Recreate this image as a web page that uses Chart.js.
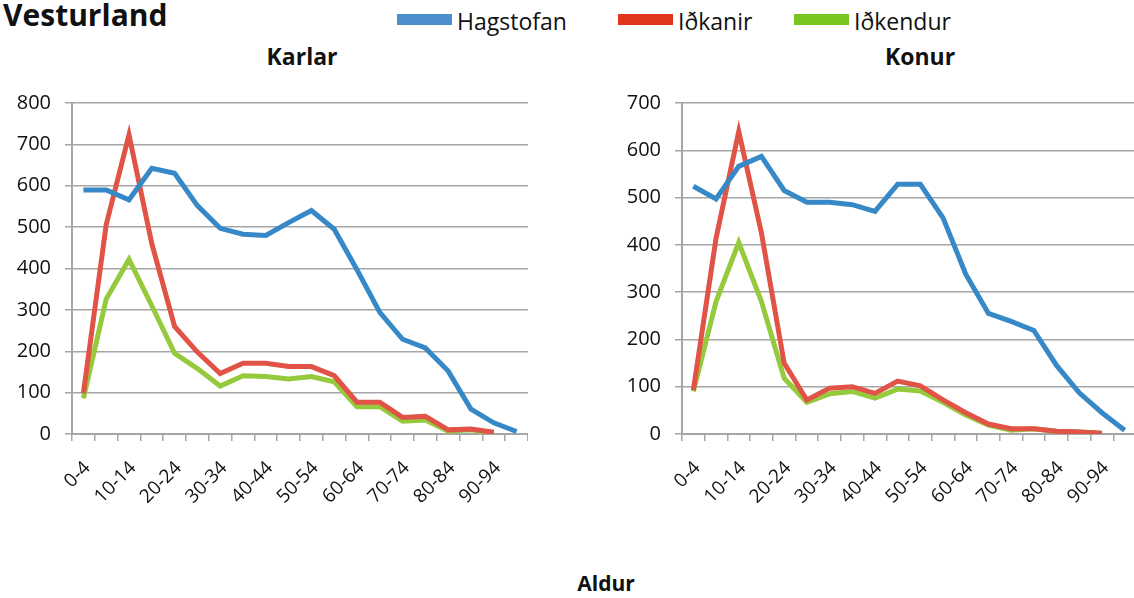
<!DOCTYPE html>
<html>
<head>
<meta charset="utf-8">
<script src="https://cdn.jsdelivr.net/npm/chart.js@4.4.1/dist/chart.umd.min.js"></script>
<style>
  html, body { margin:0; padding:0; background:#fff; width:1134px; height:598px; overflow:hidden; font-family:'Open Sans', sans-serif; color:#111; }
  .box { position:absolute; top:0; height:520px; }
  #wrapK { left:0; width:528px; }
  #wrapW { left:610px; width:526px; }
  .txt { position:absolute; white-space:nowrap; }
  #title { left:3px; top:-6px; font-size:30px; font-weight:700; }
  .sub { top:40px; font-size:23px; font-weight:700; transform:translateX(-50%); }
  #aldur { left:606px; top:569px; font-size:21px; font-weight:700; transform:translateX(-50%); }
  .leg { position:absolute; top:5px; display:flex; align-items:center; font-size:23px; }
  .leg i { display:inline-block; width:55px; height:11px; margin-right:5px; position:relative; top:-2px; }
</style>
</head>
<body>
<div class="txt" id="title">Vesturland</div>
<div class="leg" style="left:397px"><i style="background:#4a8fcb"></i>Hagstofan</div>
<div class="leg" style="left:618px"><i style="background:#e2361a"></i>Iðkanir</div>
<div class="leg" style="left:794px"><i style="background:#77c51e"></i>Iðkendur</div>
<div class="txt sub" style="left:302px">Karlar</div>
<div class="txt sub" style="left:920px">Konur</div>
<div class="box" id="wrapK"><canvas id="cK"></canvas></div>
<div class="box" id="wrapW"><canvas id="cW"></canvas></div>
<div class="txt" id="aldur">Aldur</div>
<script>
'use strict';
// ─── Data ─────────────────────────────────────────────────────────────────────
const ageGroups = ['0-4','5-9','10-14','15-19','20-24','25-29','30-34','35-39','40-44','45-49',
                   '50-54','55-59','60-64','65-69','70-74','75-79','80-84','85-89','90-94','95-99'];

const karlarHagstofan = [590,590,566,642,630,552,497,483,480,511,540,495,397,294,229,208,152,60,27,6];
const karlarIdkanir   = [98,506,723,460,260,198,146,171,171,163,163,141,77,77,40,43,10,12,4,null];
const karlarIdkendur  = [86,326,422,310,195,158,116,141,139,133,139,126,66,66,31,34,7,10,2,null];

const konurHagstofan  = [524,497,566,587,515,490,490,485,471,528,528,457,338,255,238,219,145,87,45,8];
const konurIdkanir    = [93,414,640,425,150,72,97,100,86,112,102,72,45,21,11,11,6,4,1.5,null];
const konurIdkendur   = [90,280,405,280,118,67,85,90,76,95,91,67,40,19,8,11,6,4,1.5,null];

const seriesNames  = ['Hagstofan','Iðkanir','Iðkendur'];
const seriesColors = ['#3689c6','#e05346','#94ca3c'];

const karlarTicks = {max:800, step:100};
const konurTicks  = {max:700, step:100};

// ─── Chart builder ────────────────────────────────────────────────────────────
const GRID = '#a6a6a6';
const FONT = "'Open Sans', sans-serif";

const lineChart = (id, values, ticks) => new Chart(document.getElementById(id), {
  type:'line',
  data:{
    labels:ageGroups,
    datasets:values.map((v,i)=>({label:seriesNames[i],data:v,borderColor:seriesColors[i],backgroundColor:seriesColors[i],
      borderWidth:5,pointRadius:0,tension:0,spanGaps:false}))
  },
  options:{
    responsive:true,maintainAspectRatio:false,animation:false,
    layout:{padding:{top:103,left:0,right:0,bottom:0}},
    plugins:{legend:{display:false},tooltip:{enabled:false},title:{display:false}},
    scales:{
      x:{offset:true,
         grid:{offset:true,drawOnChartArea:false,drawTicks:true,tickLength:7,color:GRID,lineWidth:1.5},
         border:{color:GRID,width:2},
         ticks:{autoSkip:false,maxRotation:45,minRotation:45,padding:16,labelOffset:4,color:'#111',font:{family:FONT,size:19},
                callback:(v,i)=>i%2===0?ageGroups[i]:''},
         afterFit:s=>{s.height=86;s.paddingLeft=0;s.paddingRight=0;}},
      y:{min:0,max:ticks.max,
         grid:{color:GRID,lineWidth:1.5,tickLength:7},
         border:{color:GRID,width:2},
         ticks:{stepSize:ticks.step,padding:14,color:'#111',font:{family:FONT,size:20}},
         afterFit:s=>{s.width=72;s.paddingTop=0;s.paddingBottom=0;}}
    }
  }
});

lineChart('cK',[karlarHagstofan,karlarIdkanir,karlarIdkendur],karlarTicks);
lineChart('cW',[konurHagstofan,konurIdkanir,konurIdkendur],konurTicks);
</script>
</body>
</html>
